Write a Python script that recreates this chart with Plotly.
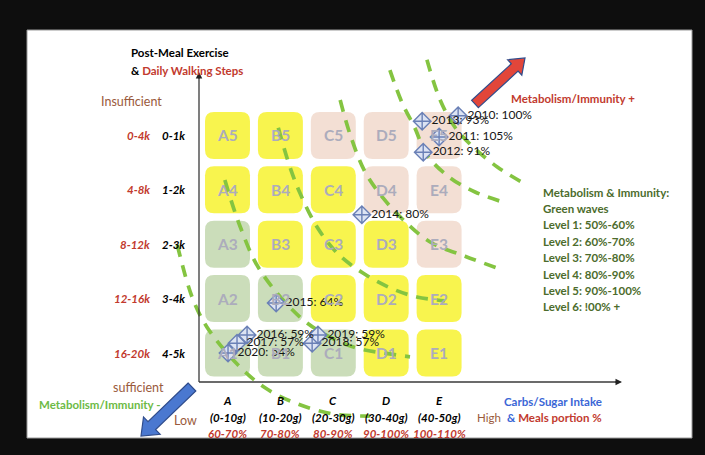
import math
import plotly.graph_objects as go

W, H = 705, 455

# ---------------- data ----------------
col_letters = ["A", "B", "C", "D", "E"]
carb_ranges = ["(0-10g)", "(10-20g)", "(20-30g)", "(30-40g)", "(40-50g)"]
portion_pct = ["60-70%", "70-80%", "80-90%", "90-100%", "100-110%"]
row_numbers = [1, 2, 3, 4, 5]
steps_daily = ["16-20k", "12-16k", "8-12k", "4-8k", "0-4k"]      # rows 1..5
steps_post = ["4-5k", "3-4k", "2-3k", "1-2k", "0-1k"]           # rows 1..5

# cell colour class per row (row 1 bottom .. row 5 top), columns A..E
cells_row1 = ["green", "green", "green", "yellow", "yellow"]
cells_row2 = ["green", "green", "yellow", "yellow", "yellow"]
cells_row3 = ["green", "yellow", "yellow", "yellow", "peach"]
cells_row4 = ["yellow", "yellow", "yellow", "peach", "peach"]
cells_row5 = ["yellow", "yellow", "peach", "peach", "peach"]

years = ["2010", "2011", "2012", "2013", "2014", "2015",
         "2016", "2017", "2018", "2019", "2020"]
x_carbs = [5.36, 5.00, 4.70, 4.68, 3.54, 1.92, 1.37, 1.18, 2.60, 2.71, 1.01]
y_steps = [5.36, 4.97, 4.69, 5.26, 3.54, 1.92, 1.33, 1.18, 1.18, 1.33, 1.00]
metab_pct = [100, 105, 91, 93, 80, 64, 59, 57, 57, 59, 54]

# green waves (levels) in grid units
wave1_x = [0.05, 0.33, 0.61, 1.20, 1.71, 2.28, 2.99, 3.69]
wave1_y = [2.99, 2.03, 1.48, 0.78, 0.36, 0.08, -0.12, -0.16]
wave2_x = [0.95, 1.24, 1.61, 2.37, 2.94, 3.45, 3.94, 4.45]
wave2_y = [4.18, 3.32, 2.53, 1.66, 1.29, 1.09, 1.00, 0.93]
wave3_x = [1.96, 2.18, 2.37, 2.69, 3.07, 3.56, 4.07, 4.58, 5.11]
wave3_y = [5.14, 4.42, 3.94, 3.32, 2.84, 2.47, 2.20, 2.03, 1.96]
wave4_x = [3.13, 3.32, 3.60, 3.94, 4.32, 4.83, 5.49, 6.10]
wave4_y = [5.65, 5.01, 4.33, 3.85, 3.45, 3.04, 2.78, 2.56]
wave5_x = [4.07, 4.30, 4.54, 4.77, 5.21, 5.68, 6.19]
wave5_y = [6.20, 5.60, 5.14, 4.64, 4.22, 3.96, 3.78]
wave6_x = [4.77, 5.02, 5.30, 5.64, 6.10, 6.62]
wave6_y = [6.39, 5.65, 5.15, 4.79, 4.42, 4.11]

legend_lines = ["Metabolism & Immunity:", "Green waves",
                "Level 1: 50%-60%", "Level 2: 60%-70%", "Level 3: 70%-80%",
                "Level 4: 80%-90%", "Level 5: 90%-100%", "Level 6: !00% +"]

# ---------------- styling / geometry helpers ----------------
FONT = "Lato"
COLORS = {"yellow": "#F8F44E", "peach": "#F3DFD4", "green": "#CBDDBA"}
RED = "#C23A2E"
BROWN = "#9A5A3C"
DKGREEN = "#4C6C2C"
LTGREEN = "#6DBA45"
BLUE = "#3A66D6"

# grid unit -> pixel mapping (col A centre at px 227.5, 52.9 px per column;
# row 1 centre at py 353, 54.4 px per row)
PX0, SX = 227.5, 52.9
PY0, SY = 353.0, 54.4
XR = [1 - PX0 / SX, 1 + (W - PX0) / SX]
YR = [1 - (H - PY0) / SY, 1 + PY0 / SY]


def gx(px):
    return 1 + (px - PX0) / SX


def gy(py):
    return 1 + (PY0 - py) / SY


def rrect(cx, cy, hw, hh, rx, ry):
    x0, x1, y0, y1 = cx - hw, cx + hw, cy - hh, cy + hh
    return (f"M{x0+rx},{y0} L{x1-rx},{y0} Q{x1},{y0} {x1},{y0+ry} "
            f"L{x1},{y1-ry} Q{x1},{y1} {x1-rx},{y1} L{x0+rx},{y1} "
            f"Q{x0},{y1} {x0},{y1-ry} L{x0},{y0+ry} Q{x0},{y0} {x0+rx},{y0} Z")


def block_arrow(tail, tip, sw, hw, hl):
    dx, dy = tip[0] - tail[0], tip[1] - tail[1]
    L = math.hypot(dx, dy)
    ux, uy = dx / L, dy / L
    nx, ny = -uy, ux
    bx, by = tip[0] - ux * hl, tip[1] - uy * hl
    pts = [(tail[0] + nx * sw / 2, tail[1] + ny * sw / 2),
           (bx + nx * sw / 2, by + ny * sw / 2),
           (bx + nx * hw / 2, by + ny * hw / 2),
           tip,
           (bx - nx * hw / 2, by - ny * hw / 2),
           (bx - nx * sw / 2, by - ny * sw / 2),
           (tail[0] - nx * sw / 2, tail[1] - ny * sw / 2)]
    return "M" + " L".join(f"{p[0]/W},{1-p[1]/H}" for p in pts) + " Z"


fig = go.Figure()

shapes = []
# white slide
shapes.append(dict(type="rect", xref="paper", yref="paper",
                   x0=27 / W, x1=692 / W, y0=1 - 438 / H, y1=1 - 30 / H,
                   fillcolor="white", line=dict(color="#9a9a9a", width=1),
                   layer="below"))

# cells
rows = [cells_row1, cells_row2, cells_row3, cells_row4, cells_row5]
annotations = []
for ri, row in enumerate(rows):
    for ci, cls in enumerate(row):
        cx, cy = ci + 1, row_numbers[ri]
        shapes.append(dict(type="path", xref="x", yref="y", layer="below",
                           path=rrect(cx, cy, 0.425, 0.432, 0.17, 0.165),
                           fillcolor=COLORS[cls], line=dict(width=0)))
        annotations.append(dict(x=cx, y=cy, xref="x", yref="y",
                                text=f"<b>{col_letters[ci]}{row_numbers[ri]}</b>",
                                showarrow=False,
                                font=dict(family=FONT, size=15.5, color="#ACACBC")))

# axes lines
ox, oy = gx(199), gy(382)
shapes.append(dict(type="line", xref="x", yref="y", x0=ox, y0=oy, x1=ox, y1=gy(76),
                   line=dict(color="#3a3a3a", width=1.3)))
shapes.append(dict(type="line", xref="x", yref="y", x0=ox, y0=oy, x1=gx(617), y1=oy,
                   line=dict(color="#3a3a3a", width=1.3)))
annotations.append(dict(x=ox, y=gy(72), ax=ox, ay=gy(80), xref="x", yref="y",
                        axref="x", ayref="y", text="", showarrow=True,
                        arrowhead=2, arrowsize=1, arrowwidth=1.3, arrowcolor="#222"))
annotations.append(dict(x=gx(622), y=oy, ax=gx(614), ay=oy, xref="x", yref="y",
                        axref="x", ayref="y", text="", showarrow=True,
                        arrowhead=2, arrowsize=1, arrowwidth=1.3, arrowcolor="#222"))

# block arrows
shapes.append(dict(type="path", xref="paper", yref="paper",
                   path=block_arrow((475, 104), (525, 58), 10, 21, 14),
                   fillcolor="#E2463A", line=dict(color="#2F4C8C", width=1.2)))
shapes.append(dict(type="path", xref="paper", yref="paper",
                   path=block_arrow((192, 387), (141, 436), 11, 24, 15),
                   fillcolor="#4A78D0", line=dict(color="#2F4C8C", width=1.2)))

# waves
waves = [(wave1_x, wave1_y), (wave2_x, wave2_y), (wave3_x, wave3_y),
         (wave4_x, wave4_y), (wave5_x, wave5_y), (wave6_x, wave6_y)]
for wx, wy in waves:
    fig.add_trace(go.Scatter(x=wx, y=wy, mode="lines", hoverinfo="skip",
                             line=dict(color="#84C441", width=3.7, dash="12px,9px",
                                       shape="spline", smoothing=1.0)))

# data points
fig.add_trace(go.Scatter(
    x=x_carbs, y=y_steps, mode="markers+text",
    text=[f"{y}: {p}%" for y, p in zip(years, metab_pct)],
    textposition="middle right",
    textfont=dict(family=FONT, size=12, color="#161616"),
    marker=dict(symbol="diamond-cross", size=13.5, color="#DCE3F3",
                line=dict(color="#6A80B6", width=1.4)),
    cliponaxis=False, hoverinfo="skip"))


def ptext(px, py, text, size=11.5, color="black", xanchor="left"):
    annotations.append(dict(x=px / W, y=1 - py / H, xref="paper", yref="paper",
                            text=text, showarrow=False, xanchor=xanchor,
                            yanchor="middle",
                            font=dict(family=FONT, size=size, color=color)))


# title of y axis
ptext(129, 52, "<b>Post-Meal Exercise</b>")
ptext(129, 70, f"<b>&amp; <span style='color:{RED}'>Daily Walking Steps</span></b>")
ptext(99, 101, "Insufficient", size=12.5, color=BROWN)

# row labels
for ri in range(5):
    py = PY0 - (row_numbers[ri] - 1) * SY
    ptext(152, py, f"<b><i>{steps_daily[ri]}</i></b>", color=RED, xanchor="right")
    ptext(160, py, f"<b><i>{steps_post[ri]}</i></b>", color="black")

ptext(111, 387, "sufficient", size=12.5, color=BROWN)
ptext(37, 404, "<b>Metabolism/Immunity -</b>", size=11.5, color=LTGREEN)
ptext(172, 420, "Low", size=12.5, color=BROWN)

# column labels
for ci in range(5):
    for py, txt, colr in [(400, col_letters[ci], "black"),
                          (417, carb_ranges[ci], "black"),
                          (433, portion_pct[ci], RED)]:
        annotations.append(dict(x=ci + 1, y=1 - py / H, xref="x", yref="paper",
                                text=f"<b><i>{txt}</i></b>", showarrow=False,
                                xanchor="center", yanchor="middle",
                                font=dict(family=FONT, size=11.5, color=colr)))

ptext(604, 401, "<b>Carbs/Sugar Intake</b>", color=BLUE, xanchor="right")
ptext(503, 417, "High", size=11.5, color=BROWN, xanchor="right")
ptext(505, 417, f"<b>&amp; <span style='color:{RED}'>Meals portion %</span></b>",
      color=BLUE)

ptext(509, 98, "<b>Metabolism/Immunity +</b>", size=11.5, color=RED)

for i, line in enumerate(legend_lines):
    ptext(541, 192 + i * 16.4, f"<b>{line}</b>", size=11.5, color=DKGREEN)

fig.update_layout(
    width=W, height=H, margin=dict(l=0, r=0, t=0, b=0),
    paper_bgcolor="#0e0e0e", plot_bgcolor="rgba(0,0,0,0)",
    showlegend=False, shapes=shapes, annotations=annotations,
    xaxis=dict(range=XR, visible=False, fixedrange=True),
    yaxis=dict(range=YR, visible=False, fixedrange=True),
)

fig.write_html("out.html")
